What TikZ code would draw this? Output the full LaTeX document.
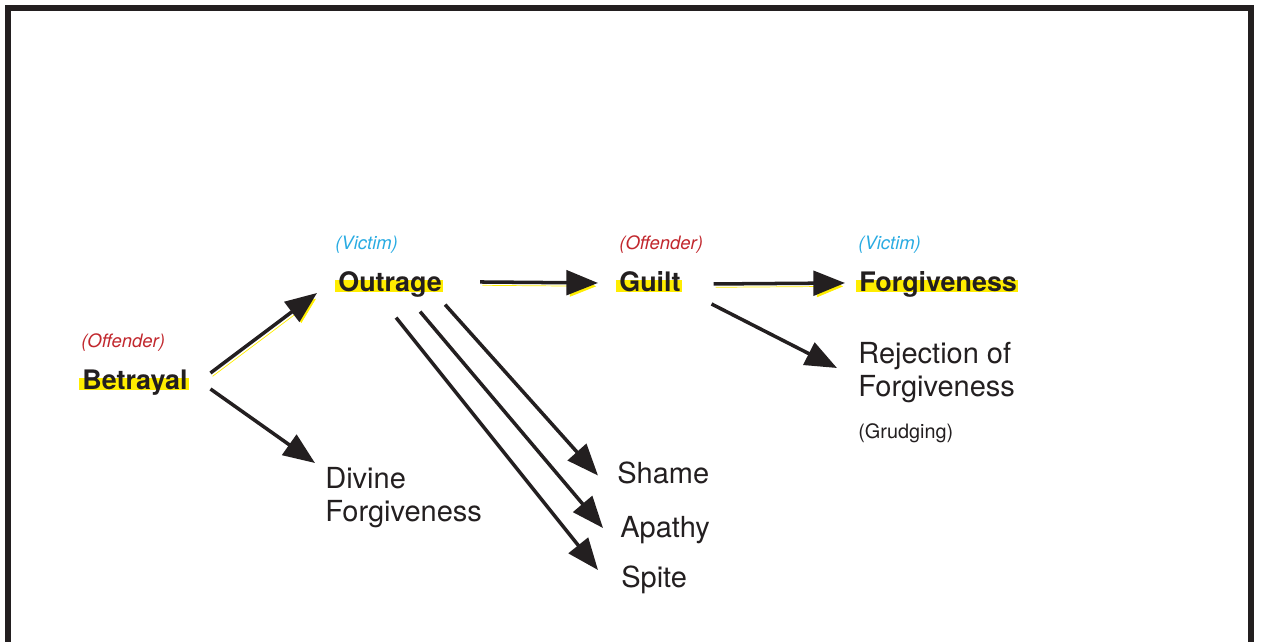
\documentclass[tikz,border=0pt]{standalone}
\usepackage{fontspec}
\setmainfont{TeX Gyre Heros}
\usetikzlibrary{arrows.meta,calc,backgrounds}
\definecolor{ink}{HTML}{231F20}
\definecolor{hl}{HTML}{FFED00}
\definecolor{offred}{HTML}{C1272D}
\definecolor{vicblue}{HTML}{29ABE2}

\begin{document}
\begin{tikzpicture}[x=0.02cm,y=-0.02cm,
    key/.style={anchor=base west, inner sep=0pt, text=ink, font=\fontsize{15.3}{18}\selectfont\bfseries, text height=11pt, text depth=3pt},
    word/.style={anchor=base west, inner sep=0pt, text=ink, font=\fontsize{16.5}{19}\selectfont, text height=12pt, text depth=3.5pt},
    words/.style={anchor=north west, inner sep=0pt, text=ink, align=left, font=\fontsize{16.5}{19}\selectfont},
    role/.style={anchor=base west, inner sep=0pt, font=\fontsize{10.5}{12}\selectfont\itshape},
    link/.style={draw=ink, line width=2pt, -{Triangle[length=18pt,width=14pt]}},
    glow/.style={link, preaction={draw=hl, transform canvas={shift={(1.2pt,-1.9pt)}}}}]

            \useasboundingbox (0,0) rectangle (1261,642);
            % Frame
            \draw[ink, line width=3.4pt] (8,660) -- (8,8) -- (1250.5,8) -- (1250.5,660);

            % Roles
            \node[role, text=offred] (r1) at (81,347) {(Offender)};
            \node[role, text=vicblue] (r2) at (335,249) {(Victim)};
            \node[role, text=offred] (r3) at (619,249) {(Offender)};
            \node[role, text=vicblue] (r4) at (858,249) {(Victim)};

            % Main steps
            \node[key] (betrayal) at (82,389) {Betrayal};
            \node[key] (outrage) at (338,291) {Outrage};
            \node[key] (guilt) at (619,291) {Guilt};
            \node[key] (forgive) at (859,291) {Forgiveness};

            % Side outcomes
            \node[words] (divine) at (325,467) {Divine\\Forgiveness};
            \node[words] (reject) at (858,342) {Rejection of\\Forgiveness};
            \node[anchor=base west, inner sep=0pt, text=ink, font=\fontsize{11.3}{13}\selectfont] (grudge) at (858,438) {(Grudging)};
            \node[word] (shame) at (617,483) {Shame};
            \node[word] (apathy) at (620,537) {Apathy};
            \node[word] (spite) at (621,587) {Spite};

            % Highlighter
            \begin{scope}[on background layer]
            \foreach \n in {betrayal,outrage,guilt,forgive}
                \fill[hl] ($(\n.base west)+(-3,-11)$) rectangle ($(\n.base east)+(1,1)$);
            \end{scope}

            % Arrows
            \draw[glow] ($(betrayal.east)+(22.5,-9)$) -- ($(outrage.west)+(-21,9)$);
            \draw[link] ($(betrayal.east)+(22.5,7)$) -- ($(divine.north west)+(-10,-4)$);
            \draw[glow] ($(outrage.east)+(38,-2)$) -- ($(guilt.west)+(-21,-1)$);
            \draw[link] ($(outrage.south)+(55,8)$) -- ($(shame.west)+(-19,0)$);
            \draw[link] ($(outrage.south)+(30,15)$) -- ($(apathy.west)+(-17,-1.5)$);
            \draw[link] ($(outrage.south)+(6,21)$) -- ($(spite.west)+(-23,-9.5)$);
            \draw[glow] ($(guilt.east)+(32.6,0)$) -- ($(forgive.west)+(-14,-1)$);
            \draw[link] ($(guilt.east)+(30.6,20)$) -- ($(reject.north west)+(-21,26)$);

\end{tikzpicture}
\end{document}
